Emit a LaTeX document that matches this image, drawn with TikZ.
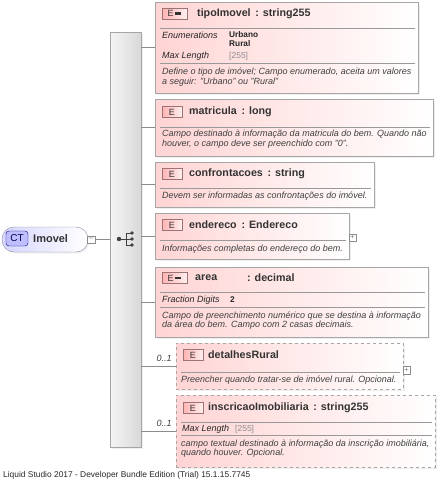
\documentclass[tikz,border=0pt]{standalone}
\usepackage{fontspec}
\setmainfont{Liberation Sans}
\usetikzlibrary{positioning,shadows}

\tikzset{
  elembox/.style={draw=black!35, shading=axis, left color=red!17, right color=white,
    inner sep=0pt, drop shadow={shadow xshift=1.5pt, shadow yshift=-1.5pt, fill=black!12}},
  optbox/.style={elembox, dashed},
  seqbar/.style={draw=black!35, shading=axis, left color=black!4, right color=black!15,
    inner sep=0pt, drop shadow={shadow xshift=1.5pt, shadow yshift=-1.5pt, fill=black!12}},
  ebadge/.style={draw=red!30!black!55, shading=axis, left color=red!30, right color=red!6,
    inner sep=0pt, minimum height=11, font=\fontsize{9}{9}\selectfont, text=black!80},
  title/.style={anchor=west, inner sep=0pt, font=\fontsize{10.7}{12}\selectfont\bfseries, text=black!80},
  desc/.style={anchor=west, inner sep=0pt, font=\fontsize{9}{10}\selectfont\itshape, text=black!75},
  facet/.style={anchor=west, inner sep=0pt, font=\fontsize{9}{10}\selectfont\itshape, text=black!85},
  fval/.style={anchor=west, inner sep=0pt, font=\fontsize{8.3}{9}\selectfont\bfseries, text=black!85},
  fgray/.style={anchor=west, inner sep=0pt, font=\fontsize{8.5}{9}\selectfont, text=black!45},
  sep/.style={draw=black!40},
  conn/.style={draw=black!45},
  occ/.style={anchor=south east, inner sep=0pt, font=\fontsize{9}{10}\selectfont\itshape, text=black!75},
  plusbox/.style={draw=black!45, fill=white, minimum size=7.5, inner sep=0pt, font=\fontsize{8}{8}\selectfont, text=black!50},
}

\begin{document}
\begin{tikzpicture}[x=1pt, y=-1pt]
\useasboundingbox (0,0) rectangle (441,480);

% complex type
\node[draw=blue!20!black!45, rounded corners=12, shading=axis, left color=blue!16, right color=white,
  minimum width=86, minimum height=25, inner sep=0pt,
  drop shadow={shadow xshift=1.5pt, shadow yshift=-1.5pt, fill=black!12}] (ct) at (45,239.5) {};
\node[draw=blue!45!black, rounded corners=3, fill=blue!25, minimum width=22, minimum height=15,
  inner sep=0pt, font=\fontsize{10}{10}\selectfont, text=blue!30!black] (ctbadge) at (17,238.5) {CT};
\node[title, font=\fontsize{11}{12}\selectfont\bfseries] (ctname) at (33,238.5) {Imovel};
\node[plusbox] (ctminus) at (91,239.5) {--};

% sequence
\node[seqbar, minimum width=31, minimum height=415] (seq) at (125.5,239.5) {};
\draw[conn] (ctminus.east) -- (seq.west |- ctminus.east);
\coordinate (sq) at (119,239);
\foreach \dy/\nm in {-6/sa,0/sb,6/sc} {
  \coordinate (\nm) at (132,239+\dy);
}
\draw[black!75, line width=0.8pt] (sq) -- (126,239) (126,233) -- (126,245)
  (126,233) -- (sa) (sb) -- (126,239) (126,245) -- (sc);
\fill[black!75] (sq) circle (2.2) (sa) circle (1.8) (sb) circle (1.8) (sc) circle (1.8);

% Elemente
\node[elembox, minimum width=263, minimum height=91] (tipo) at (286.5,47.5) {};
\node[elembox, minimum width=278, minimum height=57] (matr) at (294,127.5) {};
\node[elembox, minimum width=219, minimum height=45] (conf) at (264.5,184.5) {};
\node[elembox, minimum width=194, minimum height=46] (ende) at (252,236) {};
\node[elembox, minimum width=273, minimum height=70] (area) at (291.5,302) {};
\node[optbox, minimum width=227, minimum height=46] (deta) at (289.5,366) {};
\node[optbox, minimum width=259, minimum height=72] (insc) at (305.5,431) {};

% Verbindungen
\foreach \b in {tipo,matr,conf,ende,area,deta,insc}
  \draw[conn] (seq.east |- \b.west) -- (\b.west);
\node[occ] (occdeta) at ([xshift=-4pt,yshift=4pt]deta.west) {0..1};
\node[occ] (occinsc) at ([xshift=-4pt,yshift=4pt]insc.west) {0..1};

% tipoImovel
\node[ebadge, minimum width=25] (btipo) at (174.5,13.5) {E\,\rule[1.8pt]{6pt}{2.6pt}};
\node[title] (ttipo) at (197,14) {tipoImovel\ \,: string255};
\draw[sep] (160,28) -- (415,28);
\node[facet] (enum) at (162,35) {Enumerations};
\node[fval] (urb) at (229,34.5) {Urbano};
\node[fval] (rur) at (229,44) {Rural};
\node[facet] (mltipo) at (162,56) {Max Length};
\node[fgray] (vtipo) at (229,56) {[255]};
\draw[sep] (160,63) -- (415,63);
\node[desc] (dtipo1) at (162,72) {Define o tipo de imóvel; Campo enumerado, aceita um valores};
\node[desc] (dtipo2) at (162,82) {a seguir: "Urbano" ou "Rural"};

% matricula
\node[ebadge, minimum width=20] (bmatr) at (172,112) {E};
\node[title] (tmatr) at (189,112) {matricula\ \,: long};
\draw[sep] (160,127) -- (430,127);
\node[desc] (dmatr1) at (162,134.5) {Campo destinado à informação da matricula do bem. Quando não};
\node[desc] (dmatr2) at (162,144.5) {houver, o campo deve ser preenchido com "0".};

% confrontacoes
\node[ebadge, minimum width=20] (bconf) at (172,174) {E};
\node[title] (tconf) at (189,174) {confrontacoes\ \,: string};
\draw[sep] (160,188) -- (371,188);
\node[desc] (dconf) at (162,196.5) {Devem ser informadas as confrontações do imóvel.};

% endereco
\node[ebadge, minimum width=20] (bende) at (172,225) {E};
\node[title] (tende) at (189,225) {endereco\ \,: Endereco};
\draw[sep] (160,240) -- (346,240);
\node[desc] (dende) at (162,249) {Informações completas do endereço do bem.};
\node[plusbox] (pende) at (352.5,237.5) {+};

% area
\node[ebadge, minimum width=25] (barea) at (174.5,278) {E\,\rule[1.8pt]{6pt}{2.6pt}};
\node[title] (tarea) at (195,278) {area};
\node[title] (tarea2) at (247,278) {: decimal};
\draw[sep] (160,292) -- (425,292);
\node[facet] (fdig) at (162,300) {Fraction Digits};
\node[fval] (vdig) at (230,299.5) {2};
\draw[sep] (160,307) -- (425,307);
\node[desc] (darea1) at (162,316) {Campo de preenchimento numérico que se destina à informação};
\node[desc] (darea2) at (162,325.5) {da área do bem. Campo com 2 casas decimais.};

% detalhesRural
\node[ebadge, minimum width=20] (bdeta) at (193,355) {E};
\node[title] (tdeta) at (208,355) {detalhesRural};
\draw[sep] (181,372) -- (400,372);
\node[desc] (ddeta) at (181,380.5) {Preencher quando tratar-se de imóvel rural. Opcional.};
\node[plusbox] (pdeta) at (406.5,370) {+};

% inscricaoImobiliaria
\node[ebadge, minimum width=20] (binsc) at (193,408) {E};
\node[title] (tinsc) at (208,408) {inscricaoImobiliaria\ \,: string255};
\draw[sep] (181,422) -- (432,422);
\node[facet] (mlinsc) at (182,429) {Max Length};
\node[fgray] (vinsc) at (235,429) {[255]};
\draw[sep] (181,435) -- (432,435);
\node[desc] (dinsc1) at (181,444) {campo textual destinado à informação da inscrição imobiliária,};
\node[desc] (dinsc2) at (181,453.5) {quando houver. Opcional.};

% Fusszeile
\node[anchor=west, inner sep=0pt, font=\fontsize{8.4}{9}\selectfont, text=black!85] (footer) at (3,475) {Liquid Studio 2017 - Developer Bundle Edition (Trial) 15.1.15.7745};

\end{tikzpicture}
\end{document}
